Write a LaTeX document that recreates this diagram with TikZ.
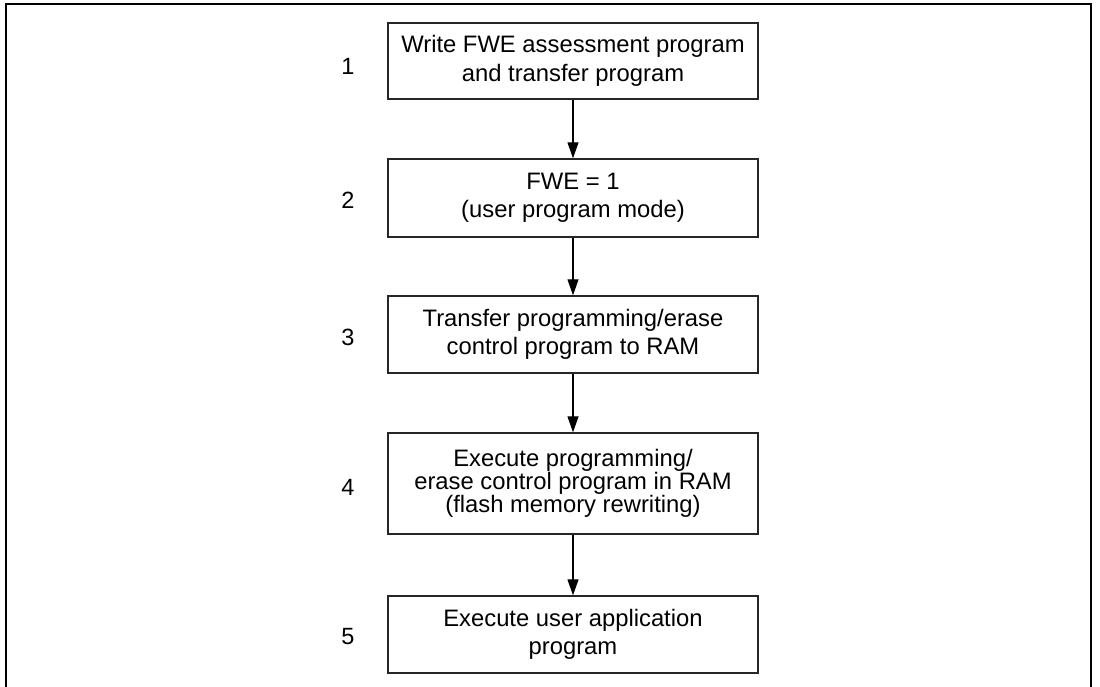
\documentclass[tikz,border=0pt]{standalone}
\usepackage{fontspec}
\setmainfont{Liberation Sans}
\usetikzlibrary{arrows.meta}
\tikzset{
  stepbox/.style={draw=black!85, line width=1.4pt, minimum width=370pt, align=center, inner sep=0pt,
    font=\fontsize{23.8}{28.5}\selectfont},
  tightbox/.style={stepbox, font=\fontsize{23.8}{21.5}\selectfont},
  numlabel/.style={font=\fontsize{23.5}{26}\selectfont, inner sep=0pt},
  flow/.style={line width=1.2pt, -{Triangle[length=16pt,width=11pt]}},
  frame/.style={line width=2pt}
}
\begin{document}
\begin{tikzpicture}[x=1pt,y=-1pt]
\useasboundingbox (0,0) rectangle (1100,687);
\draw[frame] (5.5,687) -- (5.5,4.5) -- (1091,4.5) -- (1091,687);

\node[stepbox, minimum height=76pt] (b1) at (573,61) {Write FWE assessment program\\and transfer program};
\node[stepbox, minimum height=78pt] (b2) at (573,198) {FWE = 1\\(user program mode)};
\node[stepbox, minimum height=77pt] (b3) at (573,334.5) {Transfer programming/erase\\control program to RAM};
\node[tightbox, minimum height=101pt] (b4) at (573,483.5) {Execute programming/\\erase control program in RAM\\(flash memory rewriting)};
\node[stepbox, minimum height=77pt] (b5) at (573,634.5) {Execute user application\\program};

\node[numlabel] (n1) at (348,66.5) {1};
\node[numlabel] (n2) at (348,200.5) {2};
\node[numlabel] (n3) at (348,337) {3};
\node[numlabel] (n4) at (348,487) {4};
\node[numlabel] (n5) at (348,637) {5};

\draw[flow] (b1) -- (b2);
\draw[flow] (b2) -- (b3);
\draw[flow] (b3) -- (b4);
\draw[flow] (b4) -- (b5);
\end{tikzpicture}
\end{document}
